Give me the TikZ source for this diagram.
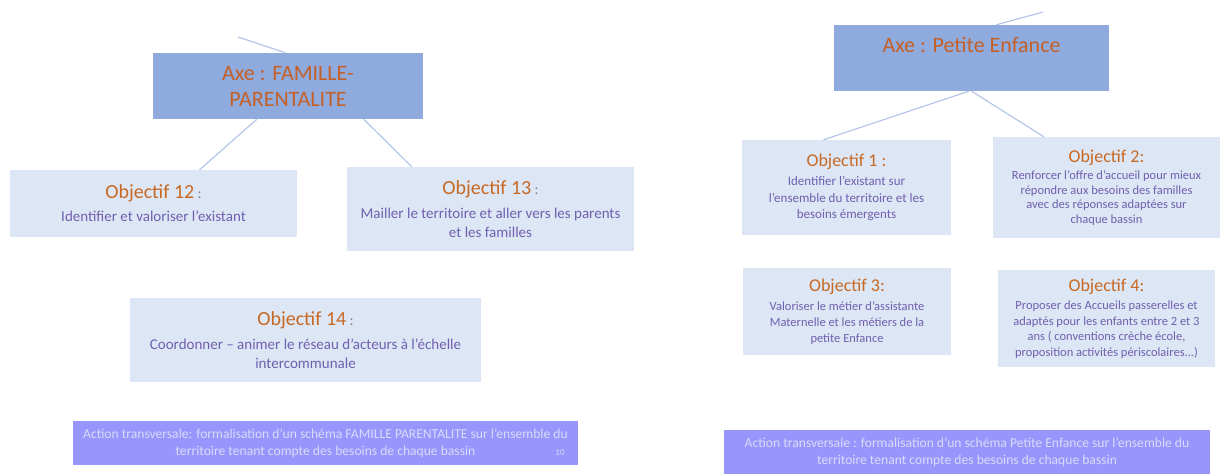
\documentclass[tikz,border=0pt]{standalone}
\usepackage{fontspec}
\setmainfont{Carlito}
\usetikzlibrary{calc}

\definecolor{axefill}{RGB}{143,170,220}
\definecolor{axetext}{RGB}{196,96,40}
\definecolor{objfill}{RGB}{220,230,244}
\definecolor{titlecol}{RGB}{200,105,35}
\definecolor{objtext}{RGB}{112,96,175}
\definecolor{colontext}{RGB}{130,130,150}
\definecolor{barfill}{RGB}{150,150,252}
\definecolor{bartext}{RGB}{218,218,250}
\definecolor{linkcol}{RGB}{180,198,232}

\newcommand{\objtitle}[2]{{\fontsize{#1}{#1}\selectfont\color{titlecol}#2}}

\tikzset{
  axebox/.style={fill=axefill, text=axetext, align=center, inner sep=0pt,
    font=\fontsize{22}{26}\selectfont},
  objbox/.style={fill=objfill, text=objtext, align=center, inner sep=0pt},
  barbox/.style={fill=barfill, text=bartext, align=center, inner sep=0pt,
    font=\fontsize{13.6}{17}\selectfont},
  link/.style={draw=linkcol, line width=1.2pt}
}

\begin{document}
\begin{tikzpicture}[x=1pt, y=-1pt]
  \useasboundingbox (0,0) rectangle (1231,475);

  % Axe FAMILLE-PARENTALITE
  \node[axebox, minimum width=270pt, minimum height=66pt] (axeA) at (288,86)
    {Axe : FAMILLE-\\PARENTALITE};
  \node[objbox, minimum width=287pt, minimum height=67pt,
    font=\fontsize{15}{18}\selectfont] (obj12) at (153.5,203.5)
    {\objtitle{20}{Objectif 12} {\color{colontext}:}\\[5pt]
     Identifier et valoriser l'existant};
  \node[objbox, minimum width=287pt, minimum height=84pt,
    font=\fontsize{15}{19}\selectfont] (obj13) at (490.5,209)
    {\objtitle{20}{Objectif 13} {\color{colontext}:}\\[5pt]
     Mailler le territoire et aller vers les parents\\et les familles};
  \node[objbox, minimum width=351pt, minimum height=84pt,
    font=\fontsize{15}{19}\selectfont] (obj14) at (305.5,340)
    {\objtitle{20}{Objectif 14} {\color{colontext}:}\\[5pt]
     Coordonner -- animer le réseau d'acteurs à l'échelle\\intercommunale};
  \node[barbox, minimum width=505pt, minimum height=44pt] (barA) at (325.5,443)
    {Action transversale: formalisation d'un schéma FAMILLE PARENTALITE sur l'ensemble du\\
     territoire tenant compte des besoins de chaque bassin};
  \node[text=bartext, font=\fontsize{9}{9}\selectfont] (pagenum) at (560,453) {10};

  % liens du cote gauche
  \coordinate (topA) at (238,37);
  \draw[link] ($(axeA.north west)!0.49!(axeA.north east)$) -- (topA);
  \draw[link] ($(axeA.south west)!0.385!(axeA.south east)$)
    -- ($(obj12.north west)!0.66!(obj12.north east)$);
  \draw[link] ($(axeA.south west)!0.78!(axeA.south east)$)
    -- ($(obj13.north west)!0.226!(obj13.north east)$);

  % Axe Petite Enfance
  \node[axebox, minimum width=275pt, minimum height=66pt] (axeB) at (971.5,58)
    {Axe : Petite Enfance\\\mbox{}};
  \node[objbox, minimum width=209pt, minimum height=95pt,
    font=\fontsize{13}{16.5}\selectfont] (obj1) at (846.5,187.5)
    {\objtitle{18}{Objectif 1 :}\\[3pt]
     Identifier l'existant sur\\l'ensemble du territoire et les\\besoins émergents};
  \node[objbox, minimum width=227pt, minimum height=101pt,
    font=\fontsize{12.5}{14.5}\selectfont] (obj2) at (1106.5,187.5)
    {\objtitle{18}{Objectif 2:}\\[3pt]
     Renforcer l'offre d'accueil pour mieux\\répondre aux besoins des familles\\
     avec des réponses adaptées sur\\chaque bassin};
  \node[objbox, minimum width=208pt, minimum height=87pt,
    font=\fontsize{12.5}{16}\selectfont] (obj3) at (847,311.5)
    {\objtitle{18}{Objectif 3:}\\[3pt]
     Valoriser le métier d'assistante\\Maternelle et les métiers de la\\petite Enfance};
  \node[objbox, minimum width=217pt, minimum height=97pt,
    font=\fontsize{12.5}{15.5}\selectfont] (obj4) at (1106.5,318.5)
    {\objtitle{18}{Objectif 4:}\\[3pt]
     Proposer des Accueils passerelles et\\adaptés pour les enfants entre 2 et 3\\
     ans ( conventions crèche école,\\proposition activités périscolaires...)};
  \node[barbox, minimum width=486pt, minimum height=44pt] (barB) at (967,452)
    {Action transversale : formalisation d'un schéma Petite Enfance sur l'ensemble du\\
     territoire tenant compte des besoins de chaque bassin};

  % liens du cote droit
  \coordinate (topB) at (1043,12);
  \draw[link] ($(axeB.north west)!0.59!(axeB.north east)$) -- (topB);
  \draw[link] ($(axeB.south west)!0.49!(axeB.south east)$)
    -- ($(obj1.north west)!0.39!(obj1.north east)$);
  \draw[link] ($(axeB.south west)!0.5!(axeB.south east)$)
    -- ($(obj2.north west)!0.225!(obj2.north east)$);
\end{tikzpicture}
\end{document}
